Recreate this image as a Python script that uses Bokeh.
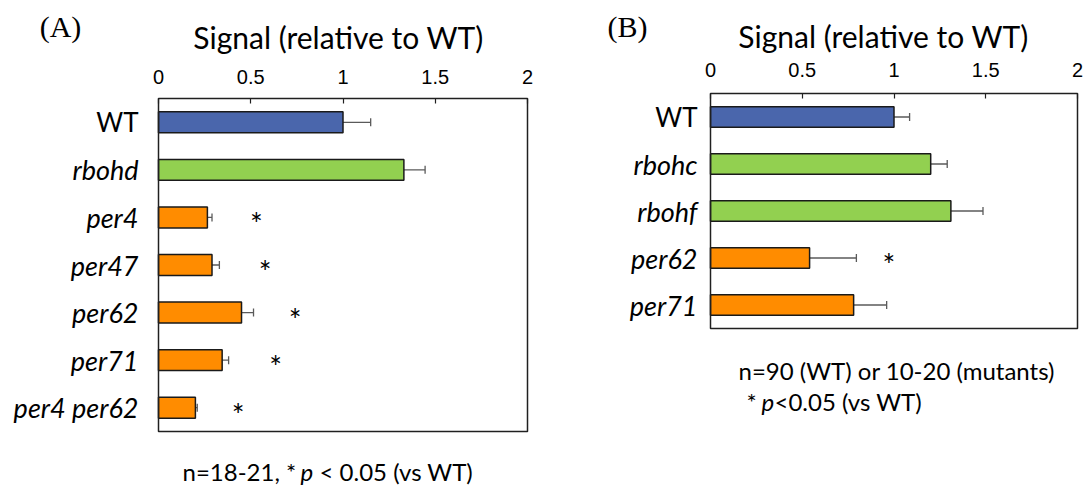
from bokeh.plotting import figure
from bokeh.models import (ColumnDataSource, Range1d, FixedTicker, LinearAxis,
                          NumeralTickFormatter, Whisker, TeeHead)
from bokeh.layouts import row
from bokeh.core.properties import value
from bokeh.embed import file_html
from bokeh.resources import INLINE

# ---------------- data ----------------
x_ticks = [0, 0.5, 1, 1.5, 2]
axis_title = "Signal (relative to WT)"

# Panel A
cats_a = ["WT", "rbohd", "per4", "per47", "per62", "per71", "per4 per62"]
vals_a = [1.0, 1.33, 0.265, 0.29, 0.45, 0.345, 0.2]
errs_a = [0.15, 0.115, 0.025, 0.04, 0.065, 0.035, 0.01]
groups_a = ["wt", "rboh", "per", "per", "per", "per", "per"]
star_cats_a = ["per4", "per47", "per62", "per71", "per4 per62"]
star_x_a = [0.53, 0.578, 0.74, 0.635, 0.432]
note_a = ["n=18-21, * ", "p", "< 0.05 (vs WT)"]

# Panel B
cats_b = ["WT", "rbohc", "rbohf", "per62", "per71"]
vals_b = [1.0, 1.2, 1.31, 0.54, 0.78]
errs_b = [0.085, 0.09, 0.175, 0.255, 0.18]
groups_b = ["wt", "rboh", "rboh", "per", "per"]
star_cats_b = ["per62"]
star_x_b = [0.972]
note_b1 = "n=90 (WT) or 10-20 (mutants)"
note_b2 = ["* ", "p", "<0.05 (vs WT)"]

COLORS = {"wt": "#4A66AC", "rboh": "#92D050", "per": "#FF8C00"}
SANS = "Lato"
ERR = "#5a5a5a"
H = 486


class Panel:
    """A figure whose frame fills the whole canvas; the plot box is drawn inside it."""

    def __init__(self, width, page_left, box_left, box_top, box_bottom, ppu, cats, standoff):
        self.page_left = page_left
        self.x0 = box_left - page_left      # pixel of value 0 inside this figure
        self.ppu = ppu
        self.top = box_top
        self.band = (box_bottom - box_top) / len(cats)
        self.cats = cats
        self.idx = {c: i for i, c in enumerate(cats)}
        p = figure(output_backend="svg", toolbar_location=None,
                   width=width, height=H,
                   x_range=Range1d(self.x(page_left), self.x(page_left + width)),
                   y_range=Range1d(self.y(H), self.y(0)),
                   x_axis_location=None, y_axis_location=None,
                   min_border=0, min_border_left=0, min_border_right=0,
                   min_border_top=0, min_border_bottom=0,
                   outline_line_color=None,
                   background_fill_color="white", border_fill_color="white")
        p.xgrid.visible = False
        p.ygrid.visible = False
        ax = LinearAxis(fixed_location=-0.5,
                        ticker=FixedTicker(ticks=x_ticks),
                        formatter=NumeralTickFormatter(format="0.[0]"))
        ax.major_tick_in = 5
        ax.major_tick_out = 0
        ax.minor_tick_line_color = None
        ax.axis_line_color = None
        ax.major_tick_line_color = "#202020"
        ax.major_tick_line_width = 1.2
        ax.major_label_text_font = "Liberation Sans"
        ax.major_label_text_font_size = "20px"
        ax.major_label_text_color = "black"
        ax.major_label_standoff = standoff
        p.add_layout(ax, "above")
        self.p = p

    # page pixel -> data coordinate (for placing texts)
    def x(self, px):
        return (px - self.page_left - self.x0) / self.ppu

    def y(self, py):
        return (py - self.top) / self.band - 0.5

    def bars(self, vals, errs, groups, star_cats, star_x):
        p = self.p
        pos = [self.idx[c] for c in self.cats]
        src = ColumnDataSource(dict(
            pos=pos, val=vals,
            upper=[v + e for v, e in zip(vals, errs)],
            color=[COLORS[g] for g in groups],
        ))
        p.hbar(y="pos", left=0, right="val", height=0.44, source=src,
               fill_color="color", line_color="#1a1a1a", line_width=1.5)
        p.add_layout(Whisker(source=src, base="pos", lower="val", upper="upper",
                             dimension="width", line_color=ERR, line_width=1.3,
                             upper_head=TeeHead(size=8, line_color=ERR, line_width=1.3),
                             lower_head=None))
        # plot box spanning the value axis
        p.quad(left=[x_ticks[0]], right=[x_ticks[-1]], top=[-0.5],
               bottom=[len(self.cats) - 0.5], fill_color=None,
               line_color="#202020", line_width=1.5)
        # significance stars
        p.text(x=star_x, y=[self.idx[c] for c in star_cats], text=["*"] * len(star_cats),
               text_align="center", text_baseline="middle", text_font=value(SANS),
               text_font_size="30px", text_color="black", y_offset=6)

    def cat_labels(self, right_px):
        x = self.x(right_px)
        for style, size, keep in (("normal", "26px", lambda c: c == "WT"),
                                  ("italic", "27px", lambda c: c != "WT")):
            cs = [c for c in self.cats if keep(c)]
            self.p.text(x=[x] * len(cs), y=[self.idx[c] for c in cs], text=cs,
                        text_align="right", text_baseline="middle",
                        text_font=value(SANS), text_font_size=size,
                        text_font_style=style, text_color="black")

    def put(self, px, py, text, size, font=SANS, style="normal", align="left"):
        self.p.text(x=[self.x(px)], y=[self.y(py)], text=[text],
                    text_align=align, text_baseline="middle",
                    text_font=value(font), text_font_size=size,
                    text_font_style=style, text_color="black")


# Panel A: picture x 0..560
A = Panel(560, 0, 158, 98, 431, 184.5, cats_a, 15)
A.bars(vals_a, errs_a, groups_a, star_cats_a, star_x_a)
A.cat_labels(138)
A.put(60, 26, "(A)", "30px", font="Liberation Serif", align="center")
A.put(338, 36, axis_title, "30px", align="center")
A.put(182, 471, note_a[0], "24px")
A.put(300, 471, note_a[1], "24px", style="italic")
A.put(319, 471, note_a[2], "24px")

# Panel B: picture x 560..1089
B = Panel(529, 560, 710, 93, 328, 183.5, cats_b, 17)
B.bars(vals_b, errs_b, groups_b, star_cats_b, star_x_b)
B.cat_labels(697)
B.put(627, 26, "(B)", "30px", font="Liberation Serif", align="center")
B.put(883, 35, axis_title, "30px", align="center")
B.put(738, 370, note_b1, "24px")
B.put(746, 401, note_b2[0], "24px")
B.put(761, 401, note_b2[1], "24px", style="italic")
B.put(774, 401, note_b2[2], "24px")

layout = row(A.p, B.p)
open("out.html", "w").write(file_html(layout, INLINE))
